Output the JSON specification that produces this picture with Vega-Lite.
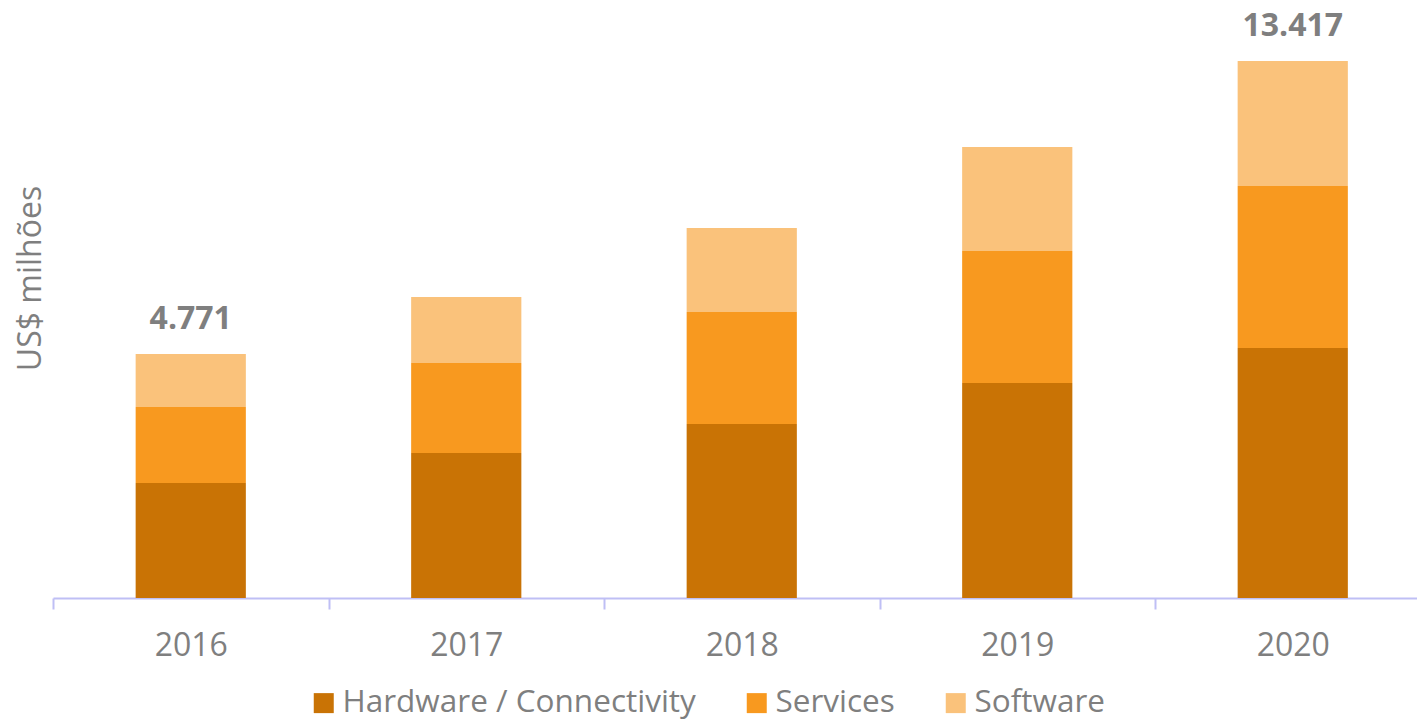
{
  "$schema": "https://vega.github.io/schema/vega-lite/v6.json",
  "width": 1364,
  "height": 598,
  "autosize": "none",
  "padding": {"left": 53, "top": 0, "right": 0, "bottom": 123},
  "background": "white",
  "config": {
    "view": {"stroke": null},
    "font": "Open Sans"
  },
  "datasets": {
    "segments": [
      {"year": "2016", "segment": "Hardware / Connectivity", "value": 2873},
      {"year": "2016", "segment": "Services", "value": 1899},
      {"year": "2016", "segment": "Software", "value": 1324},
      {"year": "2017", "segment": "Hardware / Connectivity", "value": 3623},
      {"year": "2017", "segment": "Services", "value": 2249},
      {"year": "2017", "segment": "Software", "value": 1649},
      {"year": "2018", "segment": "Hardware / Connectivity", "value": 4347},
      {"year": "2018", "segment": "Services", "value": 2798},
      {"year": "2018", "segment": "Software", "value": 2099},
      {"year": "2019", "segment": "Hardware / Connectivity", "value": 5372},
      {"year": "2019", "segment": "Services", "value": 3298},
      {"year": "2019", "segment": "Software", "value": 2598},
      {"year": "2020", "segment": "Hardware / Connectivity", "value": 6246},
      {"year": "2020", "segment": "Services", "value": 4048},
      {"year": "2020", "segment": "Software", "value": 3123}
    ],
    "labels": [
      {"year": "2016", "label": "4.771"},
      {"year": "2020", "label": "13.417"}
    ]
  },
  "data": {"name": "segments"},
  "encoding": {
    "x": {
      "field": "year",
      "type": "nominal",
      "sort": null,
      "scale": {"range": [0, 1377.5], "paddingInner": 0, "paddingOuter": 0},
      "axis": {
        "title": null,
        "labelAngle": 0,
        "labelFont": "Open Sans",
        "labelFontSize": 32,
        "labelColor": "#7F7F7F",
        "labelPadding": 21,
        "domainColor": "#BFBFF5",
        "domainWidth": 2,
        "tickColor": "#BFBFF5",
        "tickWidth": 2,
        "tickSize": 11,
        "tickBand": "extent",
        "grid": false
      }
    }
  },
  "layer": [
    {
      "mark": {"type": "bar", "width": {"band": 0.4}},
      "encoding": {
        "y": {
          "field": "value",
          "type": "quantitative",
          "stack": "zero",
          "scale": {"domain": [0, 14941], "nice": false, "zero": true},
          "axis": {
            "title": "US$ milhões",
            "titleFont": "Open Sans",
            "titleFontWeight": "normal",
            "titleFontSize": 32,
            "titleColor": "#7F7F7F",
            "titleAngle": -90,
            "titleAlign": "center",
            "titleBaseline": "alphabetic",
            "titleX": -13,
            "titleY": 278,
            "labels": false,
            "ticks": false,
            "domain": false,
            "grid": false
          }
        },
        "color": {
          "field": "segment",
          "type": "nominal",
          "sort": ["Hardware / Connectivity", "Services", "Software"],
          "scale": {
            "domain": ["Hardware / Connectivity", "Services", "Software"],
            "range": ["#C97305", "#F8991F", "#FAC27B"]
          },
          "legend": {
            "title": null,
            "orient": "none",
            "direction": "horizontal",
            "legendX": 255,
            "legendY": 687,
            "symbolType": "square",
            "symbolSize": 400,
            "symbolStrokeWidth": 0,
            "labelFont": "Open Sans",
            "labelFontSize": 31.5,
            "labelColor": "#7F7F7F",
            "labelOffset": 3,
            "columnPadding": 45,
            "labelLimit": 500
          }
        },
        "order": {"field": "segment", "sort": "ascending"}
      }
    },
    {
      "transform": [
        {"aggregate": [{"op": "sum", "field": "value", "as": "total"}], "groupby": ["year"]},
        {"lookup": "year", "from": {"data": {"name": "labels"}, "key": "year", "fields": ["label"]}},
        {"filter": "datum.label != null"}
      ],
      "mark": {
        "type": "text",
        "font": "Open Sans",
        "fontSize": 32,
        "fontWeight": "bold",
        "color": "#7F7F7F",
        "baseline": "alphabetic",
        "align": "center",
        "dy": -25
      },
      "encoding": {
        "y": {"field": "total", "type": "quantitative"},
        "text": {"field": "label", "type": "nominal"}
      }
    }
  ]
}
